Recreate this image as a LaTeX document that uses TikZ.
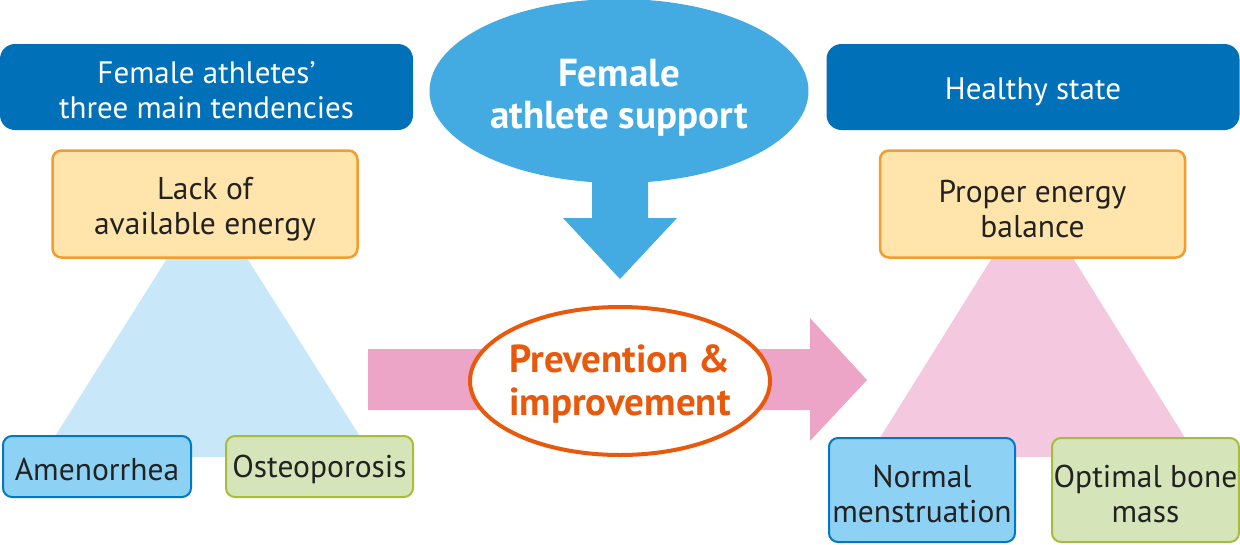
\documentclass[tikz,border=0pt]{standalone}
\usepackage{fontspec}
\setmainfont{PT Sans}
\usetikzlibrary{shapes.geometric}
\definecolor{hdrblue}{HTML}{0071B9}
\definecolor{skyblue}{HTML}{43AAE2}
\definecolor{triblue}{HTML}{C8E7F9}
\definecolor{tripink}{HTML}{F4C8DE}
\definecolor{arrpink}{HTML}{ECA4C7}
\definecolor{orfill}{HTML}{FFE4AB}
\definecolor{orline}{HTML}{F49C2E}
\definecolor{bfill}{HTML}{8DD1F5}
\definecolor{bline}{HTML}{0079C2}
\definecolor{gfill}{HTML}{D5E4B9}
\definecolor{gline}{HTML}{A8BC3B}
\definecolor{redor}{HTML}{E8590C}
\definecolor{txt}{HTML}{222222}
\tikzset{
  hdr/.style={rectangle, rounded corners=15pt, fill=hdrblue,
    minimum width=413pt, minimum height=86pt, inner sep=0pt},
  hdrtext/.style={text=white, align=center, inner sep=0pt, font=\fontsize{31}{35}\selectfont},
  orbox/.style={rectangle, rounded corners=9pt, fill=orfill, draw=orline, line width=2.5pt,
    minimum width=305pt, minimum height=107pt, inner sep=0pt},
  btext/.style={text=txt, align=center, inner sep=0pt, font=\fontsize{31.5}{35}\selectfont},
  bbox/.style={rectangle, rounded corners=9pt, fill=bfill, draw=bline, line width=2pt, inner sep=0pt},
  gbox/.style={bbox, fill=gfill, draw=gline},
}
\begin{document}
\begin{tikzpicture}[x=1pt,y=-1pt]
\useasboundingbox (0,0) rectangle (1240,544);
% triangles
\fill[triblue] (42,457) -- (207,195) -- (373,457) -- cycle;
\fill[tripink] (868,457) -- (1032.5,193) -- (1197,457) -- cycle;
% headers
\node[hdr] (lh) at (206.5,87) {};
\node[hdrtext] (lht) at ([yshift=-3pt]lh.center) {Female athletes’\\three main tendencies};
\node[hdr] (rh) at (1033,87) {};
\node[hdrtext] (rht) at ([yshift=-5pt]rh.center) {Healthy state};
% energy boxes
\node[orbox] (le) at (205,204) {};
\node[btext] (let) at ([yshift=-5pt]le.center) {Lack of\\available energy};
\node[orbox] (re) at (1032.5,204) {};
\node[btext] (ret) at ([yshift=-5pt]re.center) {Proper energy\\balance};
% bottom boxes
\node[bbox, minimum width=188pt, minimum height=61pt] (am) at (97,466.5) {};
\node[btext] (amt) at ([yshift=-3pt]am.center) {Amenorrhea};
\node[gbox, minimum width=187pt, minimum height=61pt] (os) at (319.5,466.5) {};
\node[btext] (ost) at ([yshift=-3pt]os.center) {Osteoporosis};
\node[bbox, minimum width=186pt, minimum height=104pt] (nm) at (922,490) {};
\node[btext] (nmt) at ([yshift=-4pt]nm.center) {Normal\\menstruation};
\node[gbox, minimum width=187pt, minimum height=104pt] (ob) at (1145.5,490) {};
\node[btext] (obt) at ([yshift=-4pt]ob.center) {Optimal bone\\mass};
% top ellipse with arrow
\node[ellipse, fill=skyblue, minimum width=379pt, minimum height=184pt, inner sep=0pt] (sup) at (619,91) {};
\node[text=white, align=center, inner sep=0pt, font=\bfseries\fontsize{39}{42}\selectfont] (supt)
  at ([yshift=-7pt]sup.center) {Female\\athlete support};
\coordinate (tip) at (620,279);
\fill[skyblue] (592,175) -- (648,175) -- (648,218) -- (677,218) -- (tip) -- (563,218) -- (592,218) -- cycle;
% pink arrow
\coordinate (ptip) at (867,380);
\fill[arrpink] (368,349) -- (810,349) -- (810,318) -- (ptip) -- (810,441) -- (810,410) -- (368,410) -- cycle;
% center ellipse
\node[ellipse, fill=white, draw=redor, line width=4pt, minimum width=300pt, minimum height=148pt,
  inner sep=0pt] (pi) at (620,381) {};
\node[text=redor, align=center, inner sep=0pt, font=\bfseries\fontsize{39}{43}\selectfont] (pit)
  at ([yshift=-3pt]pi.center) {Prevention \&\\improvement};
\end{tikzpicture}
\end{document}
